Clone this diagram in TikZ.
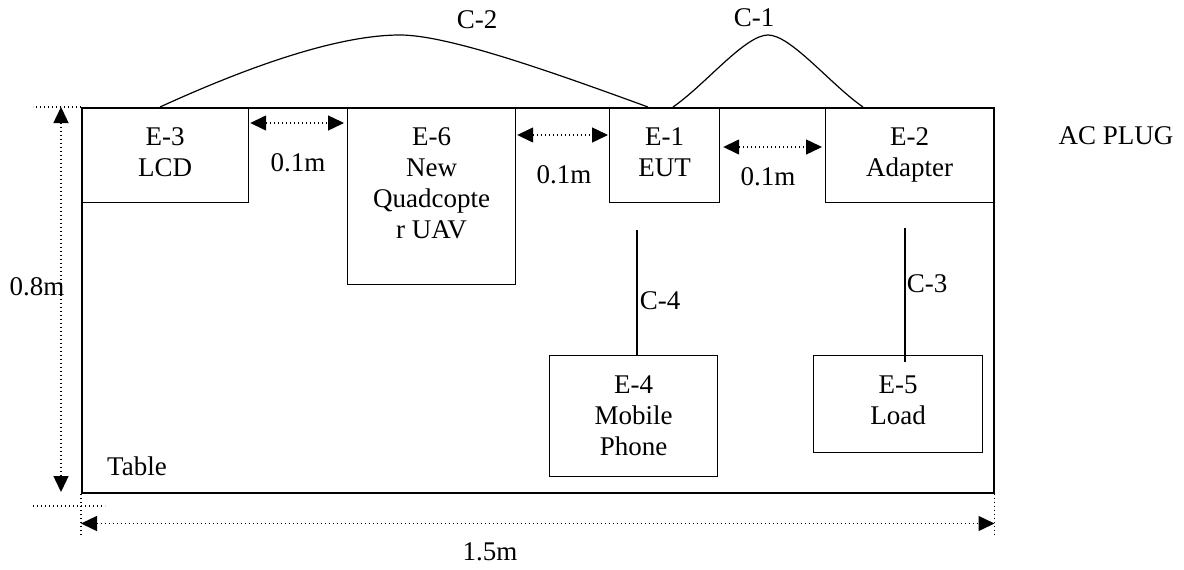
\documentclass[tikz,border=0pt]{standalone}
\usepackage{fontspec}
\setmainfont{Liberation Serif}
\usetikzlibrary{positioning,arrows.meta}

\begin{document}
\begin{tikzpicture}[x=1pt, y=-1pt,
    box/.style={draw, line width=1.2pt, anchor=north west, inner sep=0pt},
    txt/.style={font=\fontsize{27}{31}\selectfont, align=center, inner sep=0pt},
    dotline/.style={line width=1.4pt, dash pattern=on 1.4pt off 2.6pt},
    dimarr/.style={dotline, {Triangle[length=16pt,width=15pt]}-{Triangle[length=16pt,width=15pt]}},
    cable/.style={line width=1.2pt}]
    \useasboundingbox (0,0) rectangle (1184,570);
    % table and equipment
    \node[box, line width=1.5pt, minimum width=912pt, minimum height=385pt] (tbl) at (81,107) {};
    \node[box, minimum width=167pt, minimum height=95pt] (lcd) at (81,107) {};
    \node[box, minimum width=168pt, minimum height=177pt] (uav) at (347,107) {};
    \node[box, minimum width=110pt, minimum height=95pt] (eut) at (609,107) {};
    \node[box, minimum width=168pt, minimum height=95pt] (adp) at (825,107) {};
    \node[box, minimum width=168pt, minimum height=121pt] (mob) at (549,355) {};
    \node[box, minimum width=169pt, minimum height=97pt] (load) at (813,355) {};
    \node[txt, anchor=north, below=20pt of lcd.north] {E-3\\LCD};
    \node[txt, anchor=north, below=20pt of uav.north] {E-6\\New\\Quadcopte\\r UAV};
    \node[txt, anchor=north, below=20pt of eut.north] {E-1\\EUT};
    \node[txt, anchor=north, below=20pt of adp.north] {E-2\\Adapter};
    \node[txt, anchor=north, below=21pt of mob.north] {E-4\\Mobile\\Phone};
    \node[txt, anchor=north, below=21pt of load.north] {E-5\\Load};
    \node[txt] (tbltxt) at (137,466) {Table};
    \node[txt] (acplug) at (1116,136) {AC PLUG};
    % spacing between units
    \draw[dimarr] ([xshift=1pt,yshift=-16pt]lcd.north east) -- ([xshift=-3pt,yshift=-16pt]uav.north west);
    \draw[dimarr] ([xshift=1pt,yshift=-28pt]uav.north east) -- ([xshift=-1pt,yshift=-28pt]eut.north west);
    \draw[dimarr] ([xshift=3pt,yshift=-40pt]eut.north east) -- ([xshift=-3pt,yshift=-40pt]adp.north west);
    \node[txt] (gap1) at (298,163) {0.1m};
    \node[txt] (gap2) at (564,175) {0.1m};
    \node[txt] (gap3) at (768,177) {0.1m};
    % cables
    \coordinate (c2a) at (160,107);
    \coordinate (c2b) at (648,107);
    \coordinate (c1a) at (673,107);
    \coordinate (c1b) at (863,107);
    \draw[cable] (c2a) .. controls (230,75) and (330,35) .. (400,35)
      .. controls (450,35) and (560,75) .. (c2b);
    \draw[cable] (c1a) .. controls (705,85) and (745,35) .. (768,35)
      .. controls (791,35) and (831,85) .. (c1b);
    \node[txt] (c2lbl) at (477,20) {C-2};
    \node[txt] (c1lbl) at (754,18) {C-1};
    \coordinate (c4top) at (637,230);
    \coordinate (c3top) at (905,228);
    \draw[cable] (c4top) -- (c4top |- mob.north);
    \draw[cable] (c3top) -- ([yshift=-7pt]c3top |- load.north);
    \node[txt] (c4lbl) at (660,301) {C-4};
    \node[txt] (c3lbl) at (927,284) {C-3};
    % table dimensions
    \draw[dotline] (tbl.north west) -- ++(-48,0);
    \draw[dotline] (33,506) -- (105,506);
    \draw[dotline] (tbl.south west) -- ++(0,41);
    \draw[dotline] (tbl.south east) -- ++(0,41);
    \draw[dimarr] (61,107) -- (61,492);
    \draw[dimarr] ([yshift=-30pt]tbl.south west) -- ([yshift=-30pt]tbl.south east);
    \node[txt] (hgt) at (37,287) {0.8m};
    \node[txt] (wid) at (490,552) {1.5m};
\end{tikzpicture}
\end{document}
